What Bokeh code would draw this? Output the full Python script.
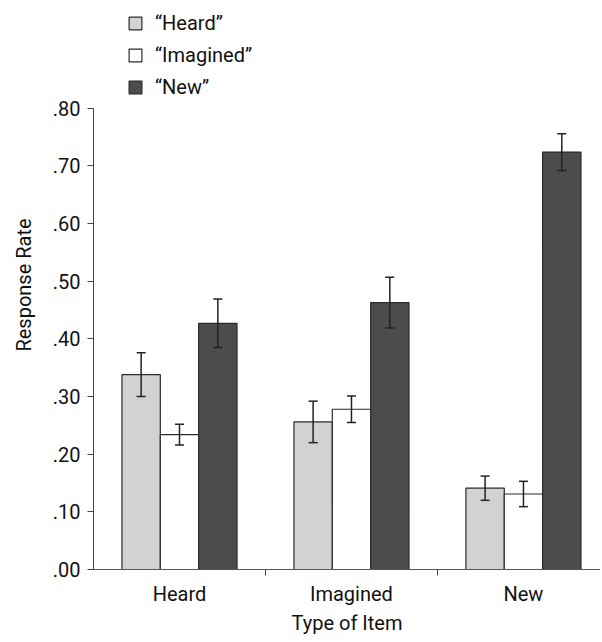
from bokeh.plotting import figure
from bokeh.models import ColumnDataSource, Whisker, Legend, LegendItem, FixedTicker, Range1d
from bokeh.embed import file_html
from bokeh.resources import INLINE

# ---- data ----
item_types = ["Heard", "Imagined", "New"]
series_names = ["\u201cHeard\u201d", "\u201cImagined\u201d", "\u201cNew\u201d"]
resp_heard = [0.338, 0.256, 0.141]
resp_heard_err = [0.038, 0.036, 0.021]
resp_imagined = [0.234, 0.278, 0.131]
resp_imagined_err = [0.018, 0.023, 0.022]
resp_new = [0.427, 0.463, 0.724]
resp_new_err = [0.042, 0.044, 0.032]
y_ticks = [0.0, 0.1, 0.2, 0.3, 0.4, 0.5, 0.6, 0.7, 0.8]
y_tick_labels = [".00", ".10", ".20", ".30", ".40", ".50", ".60", ".70", ".80"]

FONT = "Roboto"
FS = "20px"
colors = ["#d1d2d4", "#ffffff", "#4b4c4e"]
bar_w = 0.223
offsets = [-bar_w, 0.0, bar_w]

p = figure(width=600, height=640, output_backend="svg", toolbar_location=None,
           x_range=Range1d(0, 2.948), y_range=Range1d(0, 0.987),
           min_border_left=93, min_border_right=0, min_border_top=0, min_border_bottom=71)
p.outline_line_color = None
p.grid.visible = False
p.background_fill_color = "white"
p.border_fill_color = "white"

centers = [i + 0.5 for i in range(len(item_types))]
renderers = []
for vals, errs, off, col in zip([resp_heard, resp_imagined, resp_new],
                                [resp_heard_err, resp_imagined_err, resp_new_err],
                                offsets, colors):
    src = ColumnDataSource(dict(
        x=[c + off for c in centers], top=vals,
        upper=[v + e for v, e in zip(vals, errs)],
        lower=[v - e for v, e in zip(vals, errs)]))
    r = p.vbar(x="x", top="top", bottom=0, width=bar_w, source=src,
               fill_color=col, line_color="#2b2b2b", line_width=1.2)
    renderers.append(r)
    w = Whisker(base="x", upper="upper", lower="lower", source=src,
                line_color="#222222", line_width=1.5, level="overlay")
    for h in (w.upper_head, w.lower_head):
        h.size = 9
        h.line_color = "#222222"
        h.line_width = 1.5
    p.add_layout(w)

# y axis
yax = p.yaxis[0]
yax.ticker = FixedTicker(ticks=y_ticks)
yax.major_label_overrides = {t: l for t, l in zip(y_ticks, y_tick_labels)}
yax.bounds = (0, 0.8)
yax.minor_tick_line_color = None
yax.major_tick_out = 6
yax.major_tick_in = 0
yax.axis_line_color = "#444444"
yax.major_tick_line_color = "#444444"
yax.major_label_text_font = FONT
yax.major_label_text_font_size = FS
yax.major_label_text_color = "#111111"
yax.major_label_standoff = 7
yax.axis_label = "Response Rate"
yax.axis_label_text_font = FONT
yax.axis_label_text_font_size = FS
yax.axis_label_text_font_style = "normal"
yax.axis_label_text_color = "#111111"
yax.axis_label_standoff = 14

# x axis
xax = p.xaxis[0]
xax.ticker = FixedTicker(ticks=centers, minor_ticks=[1.0, 2.0])
xax.major_label_overrides = {c: t for c, t in zip(centers, item_types)}
xax.major_tick_line_color = None
xax.major_tick_out = 0
xax.minor_tick_out = 6
xax.minor_tick_in = 0
xax.minor_tick_line_color = "#444444"
xax.axis_line_color = "#555555"
xax.major_label_text_font = FONT
xax.major_label_text_font_size = FS
xax.major_label_text_color = "#111111"
xax.major_label_standoff = 6
xax.axis_label = "Type of Item"
xax.axis_label_text_font = FONT
xax.axis_label_text_font_size = FS
xax.axis_label_text_font_style = "normal"
xax.axis_label_text_color = "#111111"
xax.axis_label_standoff = 2

legend = Legend(items=[LegendItem(label=n, renderers=[r]) for n, r in zip(series_names, renderers)],
                location=(34, 470), orientation="vertical",
                glyph_width=16, glyph_height=16, label_height=16,
                spacing=8, padding=0, margin=0, label_standoff=12,
                label_text_font=FONT, label_text_font_size=FS,
                label_text_color="#111111",
                border_line_color=None, background_fill_alpha=0)
p.add_layout(legend)

open("out.html", "w").write(file_html(p, INLINE))
